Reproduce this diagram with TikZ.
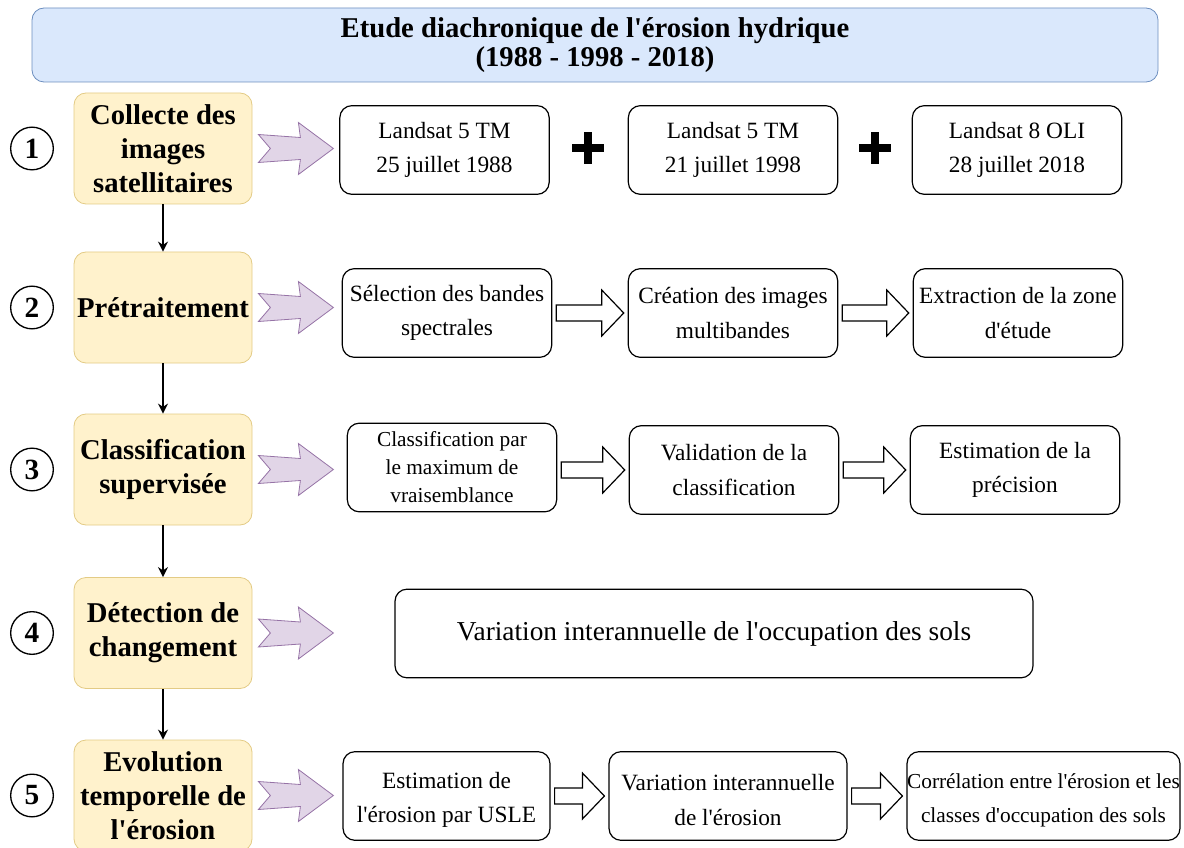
\documentclass[tikz,border=0pt]{standalone}
\usepackage{fontspec}
\setmainfont{Liberation Serif}[Ligatures=TeXOff]
\usetikzlibrary{calc,arrows.meta}

\definecolor{titlefill}{HTML}{DAE8FC}
\definecolor{titledraw}{HTML}{6C8EBF}
\definecolor{stagefill}{HTML}{FFF2CC}
\definecolor{stagedraw}{HTML}{E3CB85}
\definecolor{arrowfill}{HTML}{E1D5E7}
\definecolor{arrowdraw}{HTML}{9673A6}

\newcommand{\purplearrow}[1]{\draw [bigarrow] ($(#1.east)+(6,-14)$) -- ++(42,3) -- ++(-2,-15) -- ++(35,26) -- ++(-35,26) -- ++(2,-15) -- ++(-42,3) -- ++(12,-14) -- cycle;}
\newcommand{\hollowarrow}[2]{\draw [hollow] ($(#1.east |- #2.west)+(4,-8)$) -- ($(#2.west)+(-26,-8)$) -- ($(#2.west)+(-26,-23)$) -- ($(#2.west)+(-4,0)$) -- ($(#2.west)+(-26,23)$) -- ($(#2.west)+(-26,8)$) -- ($(#1.east |- #2.west)+(4,8)$) -- cycle;}

\begin{document}
\begin{tikzpicture}[x=0.75pt,y=-0.75pt]

% definitions
\tikzstyle{title} = [rectangle, rounded corners=9pt, minimum width=844.5pt, minimum height=55.5pt, align=center, draw=titledraw, fill=titlefill, line width=0.6pt, font=\bfseries\fontsize{21.5}{22}\selectfont]

\tikzstyle{stage} = [rectangle, rounded corners=9pt, minimum width=133.5pt, minimum height=83.25pt, inner sep=0pt, align=center, draw=stagedraw, fill=stagefill, line width=0.6pt, font=\bfseries\fontsize{21.5}{25.5}\selectfont]

\tikzstyle{number} = [circle, minimum size=32pt, inner sep=0pt, draw=black, line width=1pt, font=\bfseries\fontsize{22}{22}\selectfont]

\tikzstyle{task} = [rectangle, rounded corners=9pt, minimum width=157pt, minimum height=66.5pt, inner sep=0pt, align=center, draw=black, line width=0.9pt, font=\fontsize{17.5}{26}\selectfont]

\tikzstyle{bigarrow} = [draw=arrowdraw, fill=arrowfill, line width=0.6pt, line join=miter]

\tikzstyle{hollow} = [draw=black, fill=white, line width=0.9pt, line join=miter]

\tikzstyle{arrow} = [-{Stealth[length=7.5pt,width=7.5pt,inset=2.5pt]}, line width=1.3pt]

\useasboundingbox (0,0) rectangle (1184,848);

% the graph
\node (t0) [title] at (595,45) {Etude diachronique de l'érosion hydrique\\(1988 - 1998 - 2018)};

\node (s1) [stage] at (163,148.5) {Collecte des\\images\\satellitaires};

\node (s2) [stage] at (163,307.5) {Prétraitement};

\node (s3) [stage] at (163,469.5) {Classification\\supervisée};

\node (s4) [stage] at (163,633) {Détection de\\changement};

\node (s5) [stage] at (163,795.5) {Evolution\\temporelle de\\l'érosion};

\foreach \i/\y in {1/148.5, 2/307.5, 3/469.5, 4/633, 5/795.5}
  \node (n\i) [number] at (32,\y) {\i};

% row 1
\node (b11) [task] at (444.5,150) {Landsat 5 TM\\25 juillet 1988};
\node (b12) [task] at (733,150) {Landsat 5 TM\\21 juillet 1998};
\node (b13) [task] at (1017,150) {Landsat 8 OLI\\28 juillet 2018};

% row 2
\node (b21) [task] at (447,313) {Sélection des bandes\\spectrales};
\node (b22) [task] at (733,313) {Création des images\\multibandes};
\node (b23) [task] at (1018,313) {Extraction de la zone\\d'étude};

% row 3
\node (b31) [task, font=\fontsize{16}{21}\selectfont] at (452,467.5) {Classification par\\le maximum de\\vraisemblance};
\node (b32) [task] at (734,470) {Validation de la\\classification};
\node (b33) [task] at (1015,470) {Estimation de la\\précision};

% row 4
\node (b41) [task, minimum width=478.5pt, font=\fontsize{20.5}{26}\selectfont] at (714,633.5) {Variation interannuelle de l'occupation des sols};

% row 5
\node (b51) [task, minimum width=155.25pt] at (446.5,796) {\strut Estimation de\\l'érosion par USLE};
\node (b52) [task, minimum width=178.5pt] at (728,796) {\strut Variation interannuelle\\de l'érosion};
\node (b53) [task, minimum width=204.75pt, font=\fontsize{16}{25}\selectfont] at (1043.5,796) {\strut Corrélation entre l'érosion et les\\classes d'occupation des sols};

% plus signs
\foreach \p in {(588,148.5), (875,148.5)} {
  \fill \p ++(-16,-4) rectangle ++(32,8);
  \fill \p ++(-4,-16) rectangle ++(8,32);
}

\draw [arrow] (s1) -- (s2);
\draw [arrow] (s2) -- (s3);
\draw [arrow] (s3) -- (s4);
\draw [arrow] (s4) -- (s5);

\foreach \i in {1,...,5} {
  \purplearrow{s\i}
}

\hollowarrow{b21}{b22}
\hollowarrow{b22}{b23}
\hollowarrow{b31}{b32}
\hollowarrow{b32}{b33}
\hollowarrow{b51}{b52}
\hollowarrow{b52}{b53}

\end{tikzpicture}
\end{document}
